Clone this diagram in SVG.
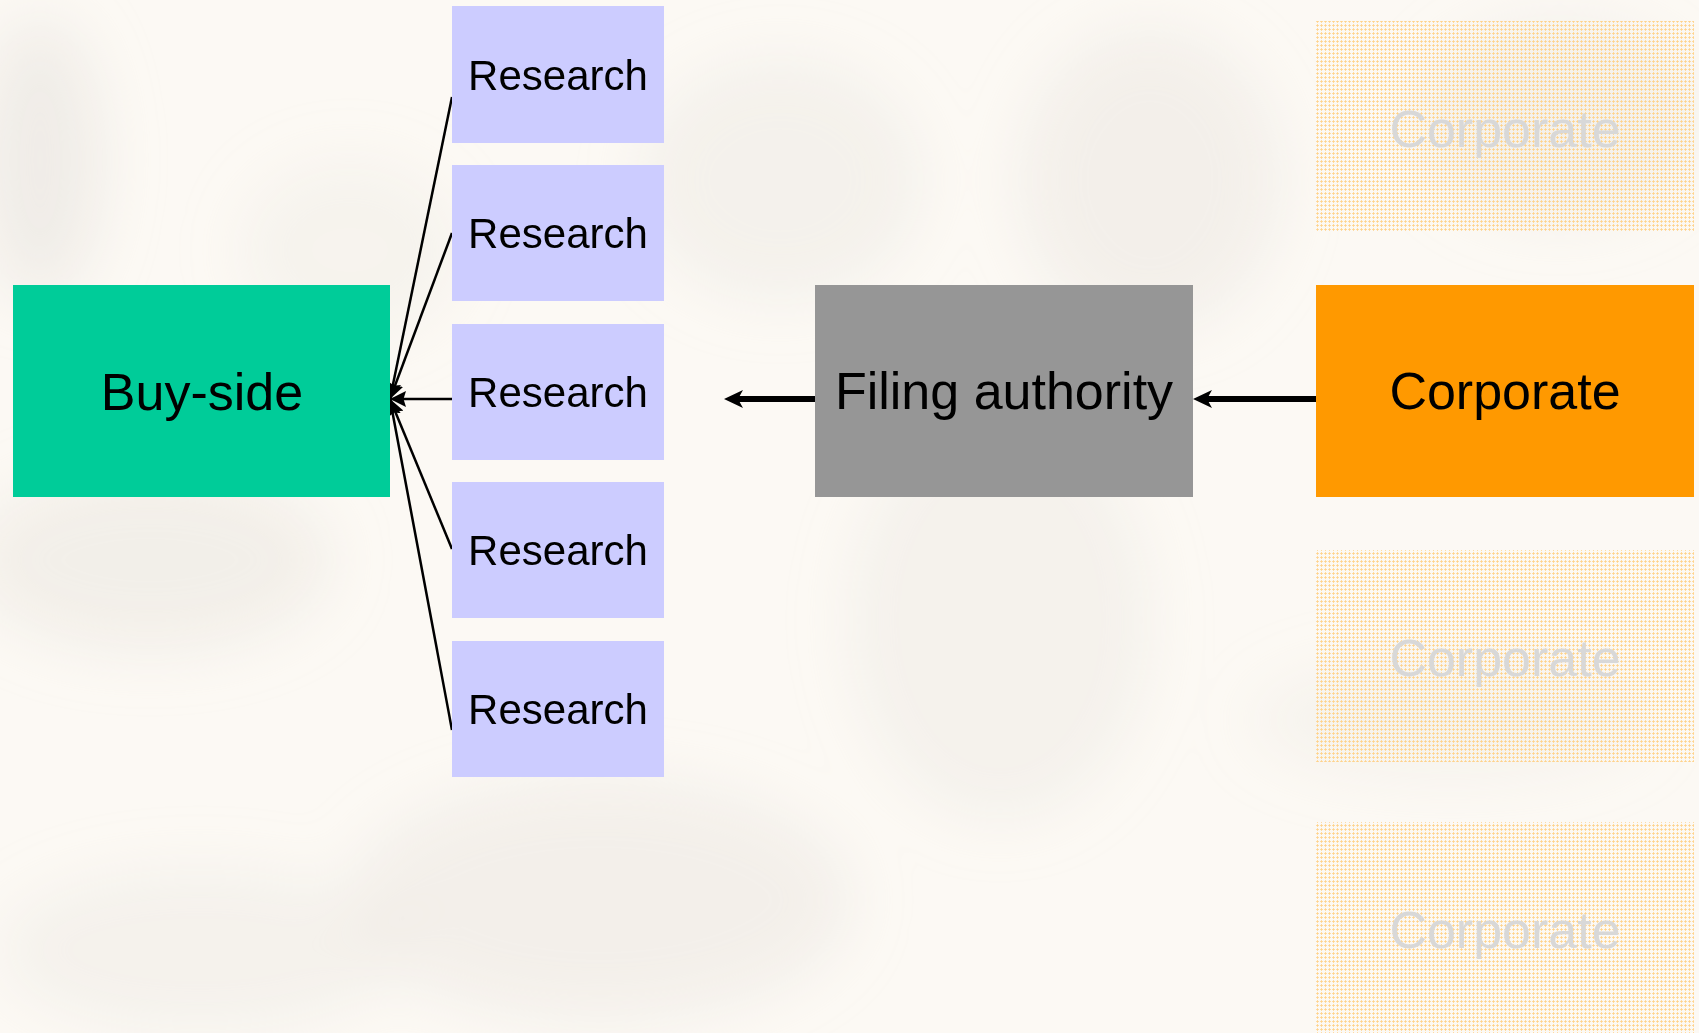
<svg xmlns="http://www.w3.org/2000/svg" width="1699" height="1033" viewBox="0 0 1699 1033">
<defs>
<style>
.lbl{font-family:"Liberation Sans",Arial,sans-serif;text-anchor:middle;fill:#000}
.r{font-size:42px}
.b{font-size:52px}
.fade{font-family:"Liberation Sans",Arial,sans-serif;text-anchor:middle;font-size:52px;fill:#D8D8D8}
.res{fill:#CCCCFF}
.thin{stroke:#000;stroke-width:2.5;fill:none}
.thick{stroke:#000;stroke-width:6;fill:none}
</style>
<filter id="blur" x="-50%" y="-50%" width="200%" height="200%"><feGaussianBlur stdDeviation="30"/></filter>
<pattern id="dots" width="4" height="4" patternUnits="userSpaceOnUse">
<rect x="1" y="0" width="1" height="3" fill="#FFCF80" opacity="0.7"/>
<rect x="0" y="1" width="3" height="1" fill="#FFCF80" opacity="0.7"/>
</pattern>
<marker id="ah" viewBox="0 0 16 16" refX="16" refY="8" markerWidth="16" markerHeight="16" markerUnits="userSpaceOnUse" orient="auto">
<path d="M0,0 L16,8 L0,16 L2.5,8 z" fill="#000"/>
</marker>
<marker id="ahb" viewBox="0 0 19 18" refX="5" refY="9" markerWidth="19" markerHeight="18" markerUnits="userSpaceOnUse" orient="auto">
<path d="M0,0 L19,9 L0,18 L5,9 z" fill="#000"/>
</marker>
</defs>
<g id="background">
<rect width="1699" height="1033" fill="#FCF9F4"/>
<g filter="url(#blur)" fill="#E6E2DC">
<ellipse cx="40" cy="160" rx="60" ry="140" opacity="0.55"/>
<ellipse cx="150" cy="560" rx="180" ry="90" opacity="0.45"/>
<ellipse cx="600" cy="900" rx="250" ry="120" opacity="0.4"/>
<ellipse cx="1000" cy="620" rx="150" ry="200" opacity="0.3"/>
<ellipse cx="780" cy="180" rx="140" ry="120" opacity="0.35"/>
<ellipse cx="1150" cy="180" rx="130" ry="150" opacity="0.4"/>
<ellipse cx="1560" cy="120" rx="140" ry="100" opacity="0.35"/>
<ellipse cx="350" cy="250" rx="110" ry="90" opacity="0.25"/>
<ellipse cx="1450" cy="720" rx="200" ry="60" opacity="0.25"/>
<ellipse cx="200" cy="950" rx="200" ry="80" opacity="0.3"/>
</g>
</g>
<g id="connectors">
<line class="thin" x1="452" y1="97" x2="390" y2="399" marker-end="url(#ah)"/>
<line class="thin" x1="452" y1="233" x2="390" y2="399" marker-end="url(#ah)"/>
<line class="thin" x1="452" y1="399" x2="390" y2="399" marker-end="url(#ah)"/>
<line class="thin" x1="452" y1="549" x2="390" y2="399" marker-end="url(#ah)"/>
<line class="thin" x1="452" y1="730" x2="390" y2="399" marker-end="url(#ah)"/>
<line class="thick" x1="815" y1="399" x2="738" y2="399" marker-end="url(#ahb)"/>
<line class="thick" x1="1316" y1="399" x2="1207" y2="399" marker-end="url(#ahb)"/>
</g>
<g id="buy-side">
<rect x="13" y="285" width="377" height="212" fill="#00CC99"/>
<text class="lbl b" x="202" y="410">Buy-side</text>
</g>
<g id="research-1">
<rect class="res" x="452" y="6" width="212" height="137"/>
<text class="lbl r" x="558" y="90">Research</text>
</g>
<g id="research-2">
<rect class="res" x="452" y="165" width="212" height="136"/>
<text class="lbl r" x="558" y="248">Research</text>
</g>
<g id="research-3">
<rect class="res" x="452" y="324" width="212" height="136"/>
<text class="lbl r" x="558" y="407">Research</text>
</g>
<g id="research-4">
<rect class="res" x="452" y="482" width="212" height="136"/>
<text class="lbl r" x="558" y="565">Research</text>
</g>
<g id="research-5">
<rect class="res" x="452" y="641" width="212" height="136"/>
<text class="lbl r" x="558" y="724">Research</text>
</g>
<g id="filing-authority">
<rect x="815" y="285" width="378" height="212" fill="#969696"/>
<text class="lbl b" x="1004" y="409">Filing authority</text>
</g>
<g id="corporate">
<rect x="1316" y="285" width="378" height="212" fill="#FF9900"/>
<text class="lbl b" x="1505" y="409">Corporate</text>
</g>
<g id="corporate-faded-1">
<rect x="1316" y="21" width="378" height="211" fill="url(#dots)"/>
<text class="fade" x="1505" y="147">Corporate</text>
</g>
<g id="corporate-faded-2">
<rect x="1316" y="550" width="378" height="212" fill="url(#dots)"/>
<text class="fade" x="1505" y="676">Corporate</text>
</g>
<g id="corporate-faded-3">
<rect x="1316" y="822" width="378" height="212" fill="url(#dots)"/>
<text class="fade" x="1505" y="948">Corporate</text>
</g>
</svg>
